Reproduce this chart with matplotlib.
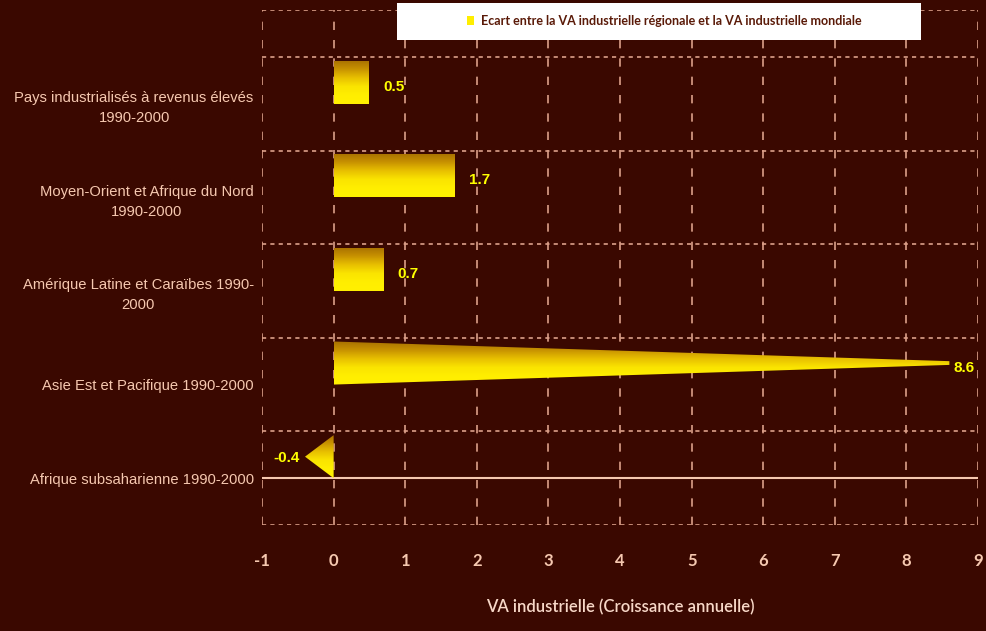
import matplotlib.pyplot as plt
import numpy as np
from matplotlib.colors import LinearSegmentedColormap
from matplotlib.patches import Polygon, Rectangle

regions = [
    "Pays industrialisés à revenus élevés\n1990-2000",
    "Moyen-Orient et Afrique du Nord\n1990-2000",
    "Amérique Latine et Caraïbes 1990-\n2000",
    "Asie Est et Pacifique 1990-2000",
    "Afrique subsaharienne 1990-2000",
]
ecart = [0.5, 1.7, 0.7, 8.6, -0.4]
value_labels = ["0.5", "1.7", "0.7", "8.6", "-0.4"]
x_ticks = list(range(-1, 10))
legend_label = "Ecart entre la VA industrielle régionale et la VA industrielle mondiale"

BG = "#3a0800"
GRID = "#dca08a"
PEACH = "#f6c8b0"
NARROW = ["Liberation Sans", "DejaVu Sans"]

gold = LinearSegmentedColormap.from_list(
    "gold", ["#fff000", "#ffee00", "#fae400", "#e8c000", "#c89200", "#a87000"])
grad = np.linspace(0, 1, 64).reshape(-1, 1)

fig = plt.figure(figsize=(9.87, 6.31), dpi=100, facecolor=BG)
ax = fig.add_axes([0.2655, 0.168, 0.7254, 0.816], facecolor=BG)

ypos = np.arange(len(regions))[::-1]  # first region on top
h = 0.46

for y, v in zip(ypos, ecart):
    if v >= 7:
        # tapered (cone-like) bar
        pts = [(0, y), (0, y + h), (v, y + h / 2 + 0.02), (v, y + h / 2 - 0.02)]
    elif v < 0:
        pts = [(0, y), (0, y + h), (v, y + h / 2)]
    else:
        pts = [(0, y), (0, y + h), (v, y + h), (v, y)]
    poly = Polygon(pts, closed=True, facecolor="none", edgecolor="none")
    ax.add_patch(poly)
    im = ax.imshow(grad, cmap=gold, aspect="auto", origin="lower",
                   extent=[min(0, v), max(0, v), y, y + h], zorder=3)
    im.set_clip_path(poly)

for y, v, lab in zip(ypos, ecart, value_labels):
    if v < 0:
        ax.annotate(lab, (v, y + 0.22), xytext=(-4, 0), textcoords="offset points",
                    ha="right", va="center", color="#ffff00", fontsize=11,
                    fontweight="bold", family=NARROW, zorder=4)
    else:
        ax.annotate(lab, (v, y + 0.18), xytext=(10 if v < 7 else 3, 0), textcoords="offset points",
                    ha="left", va="center", color="#ffff00", fontsize=11,
                    fontweight="bold", family=NARROW, zorder=4, annotation_clip=False)

ax.set_xlim(-1, 9)
ax.set_ylim(-0.5, 5)
ax.set_xticks(x_ticks)
ax.set_xticklabels([str(t) for t in x_ticks], color=PEACH, fontsize=12,
                   fontweight="bold", family="Lato")
ax.set_yticks(ypos)
ax.set_yticklabels(regions, color=PEACH, fontsize=10.6, family=NARROW,
                   multialignment="center", linespacing=1.55)
ax.set_yticks(np.arange(-0.5, 5.01, 0.5), minor=True)
ax.tick_params(axis="x", length=0, pad=20)
ax.tick_params(axis="y", which="both", length=0, pad=6)

ax.set_axisbelow(True)
ax.grid(axis="x", which="major", color=GRID, linestyle=(0, (5, 6)), linewidth=1.2)
ax.grid(axis="y", which="minor", color=GRID, linestyle=(0, (2.5, 2.5)), linewidth=1.2)
ax.axhline(0, color=PEACH, linewidth=1.5, zorder=2)
for s in ax.spines.values():
    s.set_visible(False)

ax.set_xlabel("VA industrielle (Croissance annuelle)", color="#f8d8c8",
              fontsize=12, family="Lato", fontweight="semibold", labelpad=22)

# legend box
fig.patches.append(Rectangle((397 / 987, 1 - 40 / 631), 524 / 987, 37 / 631,
                             transform=fig.transFigure, facecolor="white",
                             edgecolor="none", zorder=5))
handle = Rectangle((0, 0), 1, 1, facecolor="#ffee00")
leg = fig.legend([handle], [legend_label], loc="center",
                 bbox_to_anchor=(664 / 987, 1 - 21 / 631), frameon=False,
                 prop={"family": "Lato", "weight": "bold", "size": 9},
                 handlelength=0.6, handleheight=0.8, handletextpad=0.5)
for t in leg.get_texts():
    t.set_color("#5a1a08")
leg.set_zorder(6)

fig.savefig("out.png", dpi=100, facecolor=BG)
